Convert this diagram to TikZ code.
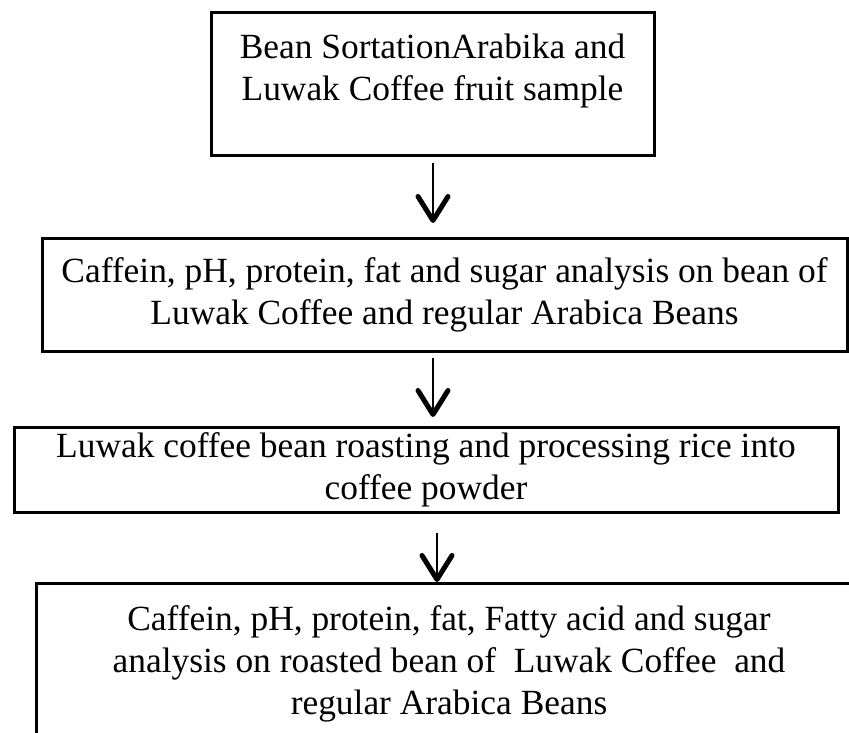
\documentclass[tikz,border=0pt]{standalone}
\usepackage{fontspec}
\setmainfont{Liberation Serif}
\usepackage{tikz}
\usetikzlibrary{arrows.meta,positioning}

\begin{document}
\begin{tikzpicture}[x=1pt, y=-1pt,
  every node/.style={font=\fontsize{35.4pt}{42pt}\selectfont, align=center, outer sep=0pt},
  stagebox/.style={draw, line width=3pt, inner sep=0pt},
  flow/.style={line width=2.4pt, -{Straight Barb[length=24pt,width=30pt,line width=5pt,round]}}]
\clip (0,0) rectangle (849,733);
\fill[white] (0,0) rectangle (849,733);
\coordinate (spine) at (433,0);
\coordinate (spinelow) at (437,0);
\node[stagebox, minimum width=443pt, minimum height=143pt] (beanbox) at (432.5,84.5) {};
\node[below=21pt of beanbox.north, inner sep=0pt] (beantxt) {Bean SortationArabika and\\Luwak Coffee fruit sample};
\node[stagebox, minimum width=805pt, minimum height=113pt] (rawbox) at (444.5,294.5)
  {Caffein, pH, protein, fat and sugar analysis on bean of\\Luwak Coffee and regular Arabica Beans};
\node[stagebox, minimum width=824pt, minimum height=85pt] (roastbox) at (426,469.5)
  {Luwak coffee bean roasting and processing rice into\\coffee powder};
\node[stagebox, minimum width=826pt, minimum height=162pt] (finalbox) at (449,664)
  {Caffein, pH, protein, fat, Fatty acid and sugar\\analysis on roasted bean of~ Luwak Coffee~ and\\regular Arabica Beans};
\draw[flow, shorten <=7pt, shorten >=15pt] (beanbox.south -| spine) -- (rawbox.north -| spine);
\draw[flow, shorten <=7pt, shorten >=10pt] (rawbox.south -| spine) -- (roastbox.north -| spine);
\draw[flow, shorten <=21pt, shorten >=1pt] (roastbox.south -| spinelow) -- (finalbox.north -| spinelow);
\end{tikzpicture}
\end{document}
